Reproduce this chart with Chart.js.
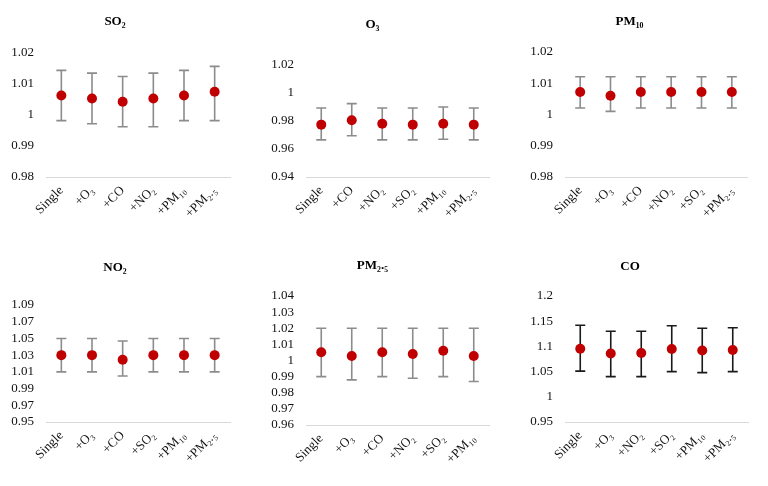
<!DOCTYPE html>
<html>
<head>
<meta charset="utf-8">
<script src="https://cdn.jsdelivr.net/npm/chart.js@4.4.0/dist/chart.umd.min.js"></script>
<style>
  body { margin: 0; background: #fff; }
  #wrap { position: relative; width: 768px; height: 486px; }
  canvas { position: absolute; }
</style>
</head>
<body>
<div id="wrap">
  <canvas id="c0" width="256" height="243" style="left:0px;top:0px"></canvas>
  <canvas id="c1" width="256" height="243" style="left:256px;top:0px"></canvas>
  <canvas id="c2" width="256" height="243" style="left:512px;top:0px"></canvas>
  <canvas id="c3" width="256" height="243" style="left:0px;top:243px"></canvas>
  <canvas id="c4" width="256" height="243" style="left:256px;top:243px"></canvas>
  <canvas id="c5" width="256" height="243" style="left:512px;top:243px"></canvas>
</div>
<script>
// categories (one per panel)
const labels_so2  = ["Single", "+O₃", "+CO", "+NO₂", "+PM₁₀", "+PM₂.₅"];
const labels_o3   = ["Single", "+CO", "+NO₂", "+SO₂", "+PM₁₀", "+PM₂.₅"];
const labels_pm10 = ["Single", "+O₃", "+CO", "+NO₂", "+SO₂", "+PM₂.₅"];
const labels_no2  = ["Single", "+O₃", "+CO", "+SO₂", "+PM₁₀", "+PM₂.₅"];
const labels_pm25 = ["Single", "+O₃", "+CO", "+NO₂", "+SO₂", "+PM₁₀"];
const labels_co   = ["Single", "+O₃", "+NO₂", "+SO₂", "+PM₁₀", "+PM₂.₅"];

// point estimates and confidence limits
const mean_so2 = [1.0063, 1.0053, 1.0043, 1.0053, 1.0063, 1.0075];
const high_so2 = [1.0144, 1.0135, 1.0124, 1.0135, 1.0144, 1.0157];
const low_so2  = [0.9982, 0.9972, 0.9962, 0.9962, 0.9982, 0.9982];

const mean_o3 = [0.9774, 0.9805, 0.978, 0.9774, 0.978, 0.9774];
const high_o3 = [0.9893, 0.9924, 0.9893, 0.9893, 0.990, 0.9893];
const low_o3  = [0.9665, 0.9695, 0.9665, 0.9665, 0.967, 0.9665];

const mean_pm10 = [1.0072, 1.006, 1.0072, 1.0072, 1.0072, 1.0072];
const high_pm10 = [1.0121, 1.0121, 1.0121, 1.0121, 1.0121, 1.0121];
const low_pm10  = [1.0021, 1.001, 1.0021, 1.0021, 1.0021, 1.0021];

const mean_no2 = [1.03, 1.03, 1.0245, 1.03, 1.03, 1.03];
const high_no2 = [1.05, 1.05, 1.047, 1.05, 1.05, 1.05];
const low_no2  = [1.01, 1.01, 1.005, 1.01, 1.01, 1.01];

const mean_pm25 = [1.0051, 1.0028, 1.0051, 1.004, 1.006, 1.0028];
const high_pm25 = [1.02, 1.02, 1.02, 1.02, 1.02, 1.02];
const low_pm25  = [0.99, 0.988, 0.99, 0.989, 0.99, 0.987];

const mean_co = [1.0955, 1.086, 1.087, 1.095, 1.092, 1.093];
const high_co = [1.142, 1.13, 1.13, 1.141, 1.136, 1.137];
const low_co  = [1.051, 1.04, 1.04, 1.05, 1.048, 1.05];

// y axis ranges
const ymin  = [0.98, 0.94, 0.98, 0.95, 0.96, 0.95];
const ymax  = [1.02, 1.02, 1.02, 1.09, 1.04, 1.2];
const ystep = [0.01, 0.02, 0.01, 0.02, 0.01, 0.05];

const titles = ["SO₂", "O₃", "PM₁₀", "NO₂", "PM₂.₅", "CO"];

const panels = [
  { labels: labels_so2,  mean: mean_so2,  high: high_so2,  low: low_so2,  bar: '#8c8c8c', left: 46, right: 230, titleTop: 14, top: 53, axis: 177 },
  { labels: labels_o3,   mean: mean_o3,   high: high_o3,   low: low_o3,   bar: '#8c8c8c', left: 50, right: 233, titleTop: 17, top: 65, axis: 177 },
  { labels: labels_pm10, mean: mean_pm10, high: high_pm10, low: low_pm10, bar: '#8c8c8c', left: 53, right: 235, titleTop: 14, top: 52, axis: 177 },
  { labels: labels_no2,  mean: mean_no2,  high: high_no2,  low: low_no2,  bar: '#8c8c8c', left: 46, right: 230, titleTop: 17, top: 62, axis: 179 },
  { labels: labels_pm25, mean: mean_pm25, high: high_pm25, low: low_pm25, bar: '#8c8c8c', left: 50, right: 233, titleTop: 15, top: 53, axis: 182 },
  { labels: labels_co,   mean: mean_co,   high: high_co,   low: low_co,   bar: '#1a1a1a', left: 53, right: 236, titleTop: 16, top: 53, axis: 179 }
];

// draws the whiskers from the dataset's own low/high arrays
const errorBars = {
  id: 'errorBars',
  beforeDatasetsDraw(chart) {
    const ds = chart.data.datasets[0];
    const y = chart.scales.y;
    const ctx = chart.ctx;
    ctx.save();
    ctx.strokeStyle = ds.barColor;
    ctx.lineWidth = 1.6;
    chart.getDatasetMeta(0).data.forEach((pt, i) => {
      const t = y.getPixelForValue(ds.errHigh[i]);
      const b = y.getPixelForValue(ds.errLow[i]);
      ctx.beginPath();
      ctx.moveTo(pt.x, t); ctx.lineTo(pt.x, b);
      ctx.moveTo(pt.x - 5, t); ctx.lineTo(pt.x + 5, t);
      ctx.moveTo(pt.x - 5, b); ctx.lineTo(pt.x + 5, b);
      ctx.stroke();
    });
    ctx.restore();
  }
};

const serif = 'Liberation Serif';
const lineH = 13 * 1.2;
const xAxisH = 50;

panels.forEach((p, k) => {
  new Chart(document.getElementById('c' + k), {
    type: 'line',
    data: {
      labels: p.labels,
      datasets: [{
        data: p.mean,
        errHigh: p.high,
        errLow: p.low,
        barColor: p.bar,
        showLine: false,
        pointRadius: 5,
        pointBackgroundColor: '#c00000',
        pointBorderColor: '#c00000',
        pointBorderWidth: 0
      }]
    },
    options: {
      responsive: false,
      animation: false,
      layout: {
        padding: { left: 0, top: 0, right: 256 - p.right, bottom: 243 - p.axis - xAxisH }
      },
      plugins: {
        legend: { display: false },
        tooltip: { enabled: false },
        title: {
          display: true,
          text: titles[k],
          color: '#000',
          font: { family: serif, size: 13, weight: 'bold' },
          padding: { top: p.titleTop, bottom: p.top - p.titleTop - lineH }
        }
      },
      scales: {
        x: {
          offset: true,
          grid: { display: false, drawTicks: false, offset: true },
          border: { display: true, color: '#d9d9d9', width: 1 },
          ticks: {
            color: '#111',
            font: { family: serif, size: 13 },
            autoSkip: false,
            minRotation: 45,
            maxRotation: 45,
            padding: 6
          },
          afterFit(s) { s.height = xAxisH; }
        },
        y: {
          min: ymin[k],
          max: ymax[k],
          grid: { display: false, drawTicks: false },
          border: { display: false },
          ticks: {
            stepSize: ystep[k],
            autoSkip: false,
            color: '#111',
            font: { family: serif, size: 13 },
            padding: 12,
            callback: v => String(+v.toFixed(3))
          },
          afterFit(s) { s.width = p.left; }
        }
      }
    },
    plugins: [errorBars]
  });
});
</script>
</body>
</html>
